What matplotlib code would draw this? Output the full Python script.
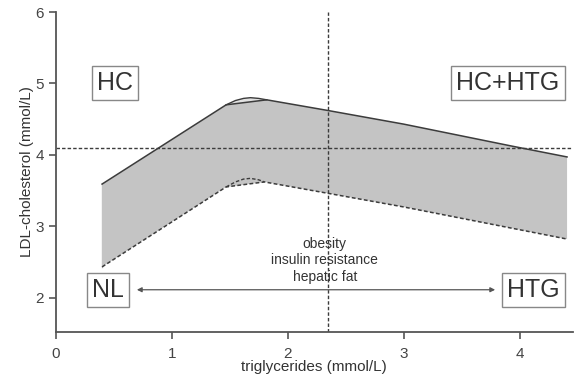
import matplotlib
matplotlib.use("Agg")
import matplotlib.pyplot as plt

plt.rcParams['font.family'] = ['Liberation Sans', 'DejaVu Sans']

# band edges (triglycerides, LDL-cholesterol)
upper_x = [0.40, 1.47, 1.82, 2.35, 3.00, 3.94, 4.41]
upper_y = [3.59, 4.70, 4.77, 4.62, 4.43, 4.12, 3.97]
upper_bump_x = [1.47, 1.55, 1.62, 1.68, 1.75, 1.82]
upper_bump_y = [4.70, 4.76, 4.79, 4.80, 4.79, 4.77]

lower_x = [0.40, 1.47, 1.80, 2.35, 3.00, 4.41]
lower_y = [2.43, 3.55, 3.62, 3.46, 3.27, 2.82]
lower_bump_x = [1.47, 1.55, 1.62, 1.68, 1.75, 1.80]
lower_bump_y = [3.55, 3.62, 3.66, 3.67, 3.65, 3.62]

tg_cut = 2.35
ldl_cut = 4.1

box_labels = ['HC', 'HC+HTG', 'NL', 'HTG']
box_x = [0.51, 3.90, 0.45, 4.12]
box_y = [5.0, 5.0, 2.10, 2.10]

arrow_x = [0.70, 3.79]
arrow_y = 2.11
note = 'obesity\ninsulin resistance\nhepatic fat'

dark = '#3c3c3c'
axc = '#555555'

fig = plt.figure(figsize=(5.74, 3.75), dpi=100)
ax = fig.add_axes([0.097, 0.115, 0.901, 0.853])

# grey band: straight top edge, curved bottom edge near the peak
poly_x = upper_x + lower_x[::-1]
poly_y = upper_y + lower_y[::-1]
ax.fill(poly_x, poly_y, color='#c4c4c4', lw=0, zorder=1)
ax.fill(lower_bump_x, lower_bump_y, color='#c4c4c4', lw=0, zorder=1)
ax.fill(upper_bump_x, upper_bump_y, color='#e2e2e2', lw=0, zorder=1)
ax.plot([upper_x[0], lower_x[0]], [upper_y[0], lower_y[0]], color='#c4c4c4', lw=1, zorder=1)

ax.plot(upper_x, upper_y, color=dark, lw=1.1, zorder=3)
ax.plot(upper_bump_x, upper_bump_y, color=dark, lw=1.0, zorder=3)
ax.plot(lower_x, lower_y, color=dark, lw=1.1, ls=(0, (2.5, 1.5)), zorder=3)
ax.plot(lower_bump_x, lower_bump_y, color=dark, lw=1.0, ls=(0, (2.5, 1.5)), zorder=3)

ax.axhline(ldl_cut, color=dark, lw=1.0, ls=(0, (2.5, 1.5)), zorder=2)
ax.axvline(tg_cut, color=dark, lw=1.0, ls=(0, (2.5, 1.5)), zorder=2)

for lab, x, y in zip(box_labels, box_x, box_y):
    ax.text(x, y, lab, fontsize=18, color='#333333', ha='center', va='center',
            bbox=dict(boxstyle='square,pad=0.2', fc='white', ec='#888888', lw=1.0),
            zorder=5)

ax.annotate('', xy=(arrow_x[0], arrow_y), xytext=(arrow_x[1], arrow_y),
            arrowprops=dict(arrowstyle='<|-|>', color='#555555', lw=0.9,
                            mutation_scale=7, shrinkA=0, shrinkB=0), zorder=4)
ax.text(tg_cut - 0.03, 2.52, note, fontsize=10, color='#333333', ha='center',
        va='center', linespacing=1.25, zorder=4)

ax.set_xlim(0, 4.46)
ax.set_ylim(1.52, 6)
ax.set_xticks([0, 1, 2, 3, 4])
ax.set_yticks([2, 3, 4, 5, 6])
for s in ['top', 'right']:
    ax.spines[s].set_visible(False)
for s in ['left', 'bottom']:
    ax.spines[s].set_color(axc)
    ax.spines[s].set_linewidth(1.3)
ax.tick_params(colors=axc, labelcolor='#444444', labelsize=11, length=5, width=1.2,
               direction='out')
ax.tick_params(axis='x', pad=6)
ax.set_xlabel('triglycerides (mmol/L)', fontsize=11, color='#333333', labelpad=-1)
ax.set_ylabel('LDL-cholesterol (mmol/L)', fontsize=11, color='#333333', labelpad=1)

fig.savefig('out.png', dpi=100)
